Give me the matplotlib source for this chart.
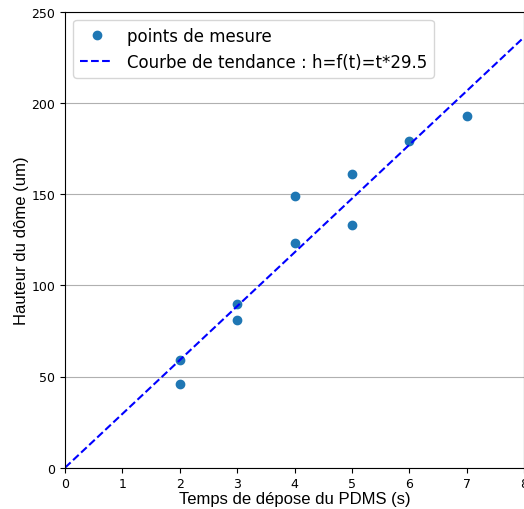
import numpy as np
import matplotlib.pyplot as plt

# mesures
temps = [2, 2, 3, 3, 4, 4, 5, 5, 6, 7]
hauteur = [59, 46, 90, 81, 149, 123, 161, 133, 179, 193]
pente = 29.5
t_fit = np.array([0, 8])

fig = plt.figure(figsize=(5.24, 5.10), dpi=100)
ax = fig.add_axes([65 / 524, 41.3 / 510, 459 / 524, 456 / 510])

ax.plot(temps, hauteur, 'o', color='tab:blue', markersize=6, label='points de mesure')
ax.plot(t_fit, t_fit * pente, '--', color='blue', linewidth=1.5,
        label='Courbe de tendance : h=f(t)=t*%.1f' % pente)

ax.set_xlim(0, 8)
ax.set_ylim(0, 250)
ax.set_yticks([0, 50, 100, 150, 200, 250])
ax.grid(axis='y', color='#b0b0b0', linewidth=0.8)
ax.set_axisbelow(True)
ax.tick_params(labelsize=9)
ax.set_xlabel('Temps de dépose du PDMS (s)', fontsize=12, family='Liberation Sans', labelpad=0.5)
ax.set_ylabel('Hauteur du dôme (um)', fontsize=12, family='Liberation Sans', labelpad=2)
ax.legend(loc='upper left', fontsize=12)

fig.savefig('out.png', dpi=100)
